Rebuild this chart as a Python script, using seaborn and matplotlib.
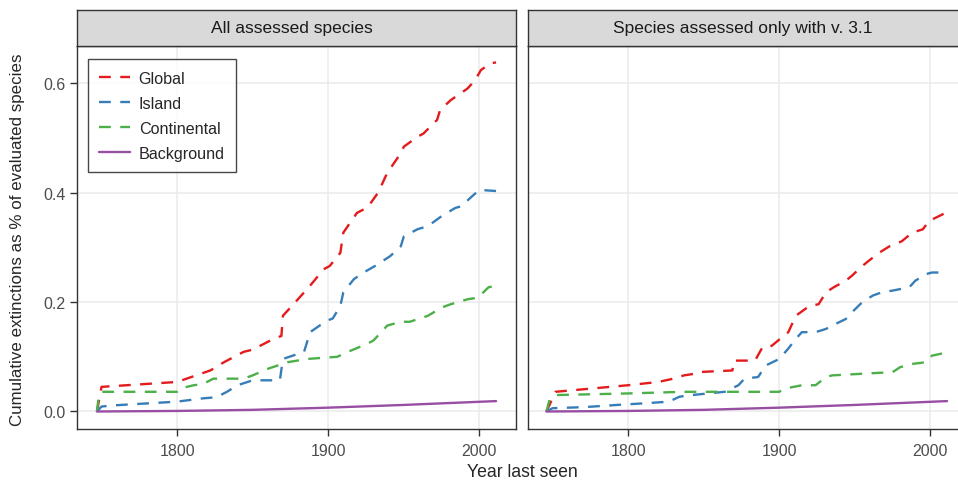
import numpy as np
import pandas as pd
import seaborn as sns
import matplotlib.pyplot as plt

# values, cumulative share of evaluated species
panels = ['All assessed species', 'Species assessed only with v. 3.1']
series = ['Global', 'Island', 'Continental', 'Background']

glob_all_year = [1747, 1750, 1800, 1822, 1831, 1844, 1850, 1864, 1869, 1870, 1877, 1888, 1897, 1901,
                 1908, 1910, 1919, 1926, 1933, 1939, 1948, 1950, 1959, 1963, 1972, 1974, 1981, 1992,
                 1997, 2001, 2007, 2011]
glob_all_val = [0.0, 0.045, 0.054, 0.075, 0.09, 0.109, 0.113, 0.133, 0.138, 0.175, 0.196, 0.23, 0.26,
                0.266, 0.29, 0.327, 0.363, 0.373, 0.40, 0.436, 0.472, 0.484, 0.502, 0.508, 0.533,
                0.551, 0.569, 0.59, 0.605, 0.624, 0.636, 0.638]

isl_all_year = [1747, 1750, 1757, 1800, 1817, 1826, 1833, 1840, 1850, 1868, 1870, 1884, 1888, 1899,
                1903, 1908, 1910, 1917, 1924, 1931, 1941, 1948, 1950, 1959, 1966, 1975, 1984, 1988,
                1995, 2000, 2011]
isl_all_val = [0.0, 0.009, 0.011, 0.018, 0.024, 0.026, 0.036, 0.048, 0.057, 0.057, 0.096, 0.109, 0.145,
               0.166, 0.17, 0.193, 0.218, 0.242, 0.255, 0.266, 0.284, 0.302, 0.32, 0.333, 0.339,
               0.357, 0.372, 0.375, 0.393, 0.405, 0.403]

cont_all_year = [1747, 1748, 1750, 1800, 1802, 1811, 1817, 1824, 1844, 1850, 1860, 1873, 1886, 1906,
                 1913, 1926, 1930, 1939, 1948, 1954, 1966, 1975, 1981, 1992, 1999, 2006, 2011]
cont_all_val = [0.0, 0.024, 0.036, 0.036, 0.042, 0.048, 0.05, 0.06, 0.06, 0.066, 0.078, 0.09, 0.096,
                0.1, 0.109, 0.124, 0.13, 0.157, 0.164, 0.164, 0.175, 0.19, 0.196, 0.205, 0.208,
                0.227, 0.23]

bg_all_year = [1747, 1800, 1850, 1900, 1950, 2011]
bg_all_val = [0.0, 0.001, 0.003, 0.007, 0.012, 0.019]

glob_v31_year = [1746, 1752, 1800, 1820, 1830, 1837, 1844, 1846, 1869, 1870, 1884, 1889, 1895, 1902,
                 1906, 1911, 1920, 1926, 1931, 1936, 1944, 1948, 1955, 1959, 1966, 1973, 1981, 1988,
                 1995, 1999, 2010]
glob_v31_val = [0.0, 0.036, 0.048, 0.054, 0.06, 0.066, 0.069, 0.072, 0.075, 0.093, 0.093, 0.118, 0.12,
                0.136, 0.145, 0.175, 0.193, 0.196, 0.218, 0.227, 0.239, 0.248, 0.266, 0.275, 0.29,
                0.302, 0.311, 0.327, 0.333, 0.348, 0.363]

isl_v31_year = [1746, 1750, 1771, 1793, 1811, 1827, 1834, 1842, 1864, 1873, 1877, 1886, 1891, 1900,
                1906, 1911, 1915, 1924, 1931, 1935, 1944, 1948, 1955, 1962, 1968, 1975, 1986, 1990,
                1997, 2001, 2011]
isl_v31_val = [0.0, 0.006, 0.008, 0.012, 0.015, 0.018, 0.027, 0.03, 0.036, 0.048, 0.06, 0.063, 0.084,
               0.096, 0.115, 0.133, 0.145, 0.145, 0.151, 0.157, 0.169, 0.181, 0.2, 0.212, 0.218,
               0.221, 0.227, 0.239, 0.251, 0.254, 0.254]

cont_v31_year = [1746, 1748, 1752, 1800, 1837, 1900, 1904, 1915, 1924, 1931, 1935, 1975, 1980, 1988,
                 1997, 2001, 2011]
cont_v31_val = [0.0, 0.021, 0.03, 0.033, 0.036, 0.036, 0.042, 0.048, 0.048, 0.063, 0.066, 0.072,
                0.081, 0.087, 0.09, 0.102, 0.108]

bg_v31_year = [1746, 1800, 1850, 1900, 1950, 2011]
bg_v31_val = [0.0, 0.001, 0.003, 0.007, 0.012, 0.019]

x_ticks = [1800, 1900, 2000]
y_ticks = [0.0, 0.2, 0.4, 0.6]
y_ticklabels = ['0.0', '0.2', '0.4', '0.6']

# long table for seaborn
rows = []
for panel, data in zip(panels, [
        [(glob_all_year, glob_all_val), (isl_all_year, isl_all_val),
         (cont_all_year, cont_all_val), (bg_all_year, bg_all_val)],
        [(glob_v31_year, glob_v31_val), (isl_v31_year, isl_v31_val),
         (cont_v31_year, cont_v31_val), (bg_v31_year, bg_v31_val)]]):
    for name, (yrs, vals) in zip(series, data):
        for yr, v in zip(yrs, vals):
            rows.append({'panel': panel, 'series': name, 'year': yr, 'value': v})
df = pd.DataFrame(rows)

sns.set_style('white')
plt.rcParams['font.family'] = ['Liberation Sans', 'DejaVu Sans']

palette = {'Global': '#E41A1C', 'Island': '#377EB8', 'Continental': '#4DAF4A', 'Background': '#984EA3'}
dashes = {'Global': (5, 4), 'Island': (5, 4), 'Continental': (5, 4), 'Background': ''}

W, H = 958, 481
fig = plt.figure(figsize=(W / 100, H / 100), dpi=100)

# pixel boxes for the two panels (left, right edges) and shared top/bottom
panel_x = [(77, 516), (528, 967)]
top, bottom = 47, 430
strip_top = 11
border_col = '#333333'

for k, (panel, (x0, x1)) in enumerate(zip(panels, panel_x)):
    ax = fig.add_axes([x0 / W, 1 - bottom / H, (x1 - x0) / W, (bottom - top) / H])
    sub = df[df.panel == panel]
    sns.lineplot(data=sub, x='year', y='value', hue='series', style='series',
                 hue_order=series, style_order=series, palette=palette, dashes=dashes,
                 sort=False, estimator=None, units='series', lw=1.7, legend=(k == 0), ax=ax)
    ax.set_xlim(1733.8, 2024.2)
    ax.set_ylim(-0.032, 0.668)
    ax.set_xticks(x_ticks)
    ax.set_yticks(y_ticks)
    ax.grid(True, color='#EBEBEB', lw=1.1)
    ax.set_axisbelow(True)
    ax.set_xlabel('')
    ax.set_ylabel('')
    for sp in ax.spines.values():
        sp.set_color(border_col)
        sp.set_linewidth(1.0)
    ax.tick_params(axis='both', which='major', direction='out', length=5, width=1,
                   color=border_col, labelsize=11.5, labelcolor='#4D4D4D')
    ax.tick_params(axis='x', pad=5)
    ax.tick_params(axis='y', pad=3)
    ax.tick_params(left=True, bottom=True)
    if k == 0:
        ax.set_yticklabels(y_ticklabels)
        handles, labels = ax.get_legend_handles_labels()
        lgd = ax.legend(handles, labels, loc='upper left', bbox_to_anchor=(0.025, 0.965),
                        borderaxespad=0, frameon=True, fancybox=False, edgecolor='#1A1A1A',
                        fontsize=11.6, handlelength=1.9, labelspacing=0.62,
                        borderpad=0.7, handletextpad=0.55)
        lgd.get_frame().set_linewidth(1.0)
    else:
        ax.set_yticklabels([])
        ax.tick_params(axis='y', length=0)

    # grey strip on top of each panel
    sax = fig.add_axes([x0 / W, 1 - top / H, (x1 - x0) / W, (top - strip_top) / H])
    sax.set_facecolor('#D9D9D9')
    sax.set_xticks([])
    sax.set_yticks([])
    for sp in sax.spines.values():
        sp.set_color(border_col)
        sp.set_linewidth(1.0)
    sax.text(0.49, 0.5, panel, ha='center', va='center', fontsize=12.5, color='#1A1A1A',
             transform=sax.transAxes)

fig.text(18 / W, 1 - 240 / H, 'Cumulative extinctions as % of evaluated species',
         rotation=90, ha='center', va='center', fontsize=12.2)
fig.text(522 / W, 1 - 473 / H, 'Year last seen', ha='center', va='center', fontsize=12.7)

fig.savefig('out.png', dpi=100)
